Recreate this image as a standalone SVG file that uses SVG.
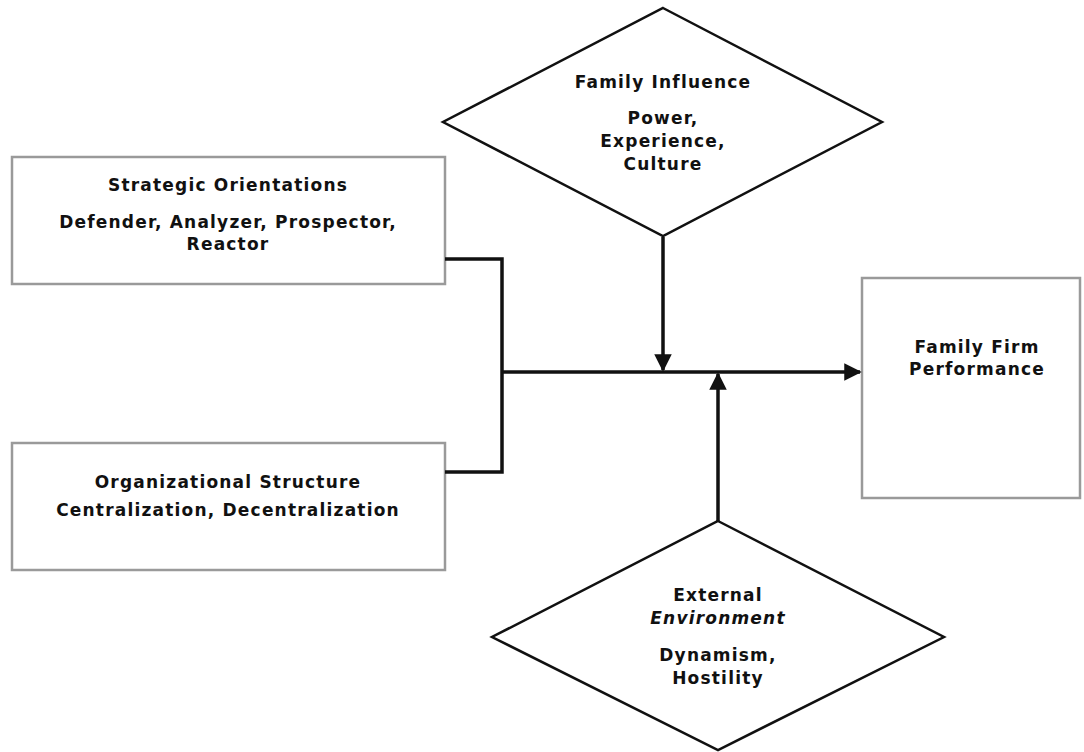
<svg xmlns="http://www.w3.org/2000/svg" width="1084" height="752" viewBox="0 0 1084 752">
<defs>
<style>
.box{fill:#fff;stroke:#9a9a9a;stroke-width:2.5}
.dia{fill:#fff;stroke:#111;stroke-width:2.5}
.t{font-family:"DejaVu Sans","Open Sans",sans-serif;font-weight:bold;font-size:17px;letter-spacing:1.2px;fill:#111;text-anchor:middle}
.i{font-style:italic}
.c{fill:none;stroke:#111;stroke-width:3.5}
</style>
<marker id="ah" viewBox="0 0 10 10" refX="9" refY="5" markerWidth="5" markerHeight="5" orient="auto" markerUnits="strokeWidth">
<path d="M0,0 L10,5 L0,10 z" fill="#111"/>
</marker>
</defs>
<rect width="1084" height="752" fill="#fff"/>
<g id="strategic">
<rect class="box" x="12" y="157" width="433" height="127"/>
<text class="t" x="228" y="191">Strategic Orientations</text>
<text class="t" x="228" y="228">Defender, Analyzer, Prospector,</text>
<text class="t" x="228" y="250">Reactor</text>
</g>
<g id="organizational">
<rect class="box" x="12" y="443" width="433" height="127"/>
<text class="t" x="228" y="488">Organizational Structure</text>
<text class="t" x="228" y="516">Centralization, Decentralization</text>
</g>
<g id="family-influence">
<polygon class="dia" points="663,8 882,122 663,236 443,122"/>
<text class="t" x="663" y="88">Family Influence</text>
<text class="t" x="663" y="124">Power,</text>
<text class="t" x="663" y="147">Experience,</text>
<text class="t" x="663" y="170">Culture</text>
</g>
<g id="external-environment">
<polygon class="dia" points="718,521 944,637 718,750 492,637"/>
<text class="t" x="718" y="601">External</text>
<text class="t i" x="718" y="624">Environment</text>
<text class="t" x="718" y="661">Dynamism,</text>
<text class="t" x="718" y="684">Hostility</text>
</g>
<g id="performance">
<rect class="box" x="862" y="278" width="218" height="220"/>
<text class="t" x="977" y="353">Family Firm</text>
<text class="t" x="977" y="375">Performance</text>
</g>
<g id="connectors">
<polyline class="c" points="445,259 502,259 502,472 445,472"/>
<line class="c" x1="502" y1="372" x2="860" y2="372" stroke-width="3" marker-end="url(#ah)"/>
<line class="c" x1="663" y1="237" x2="663" y2="370" marker-end="url(#ah)"/>
<line class="c" x1="718" y1="521" x2="718" y2="374" marker-end="url(#ah)"/>
</g>
</svg>
